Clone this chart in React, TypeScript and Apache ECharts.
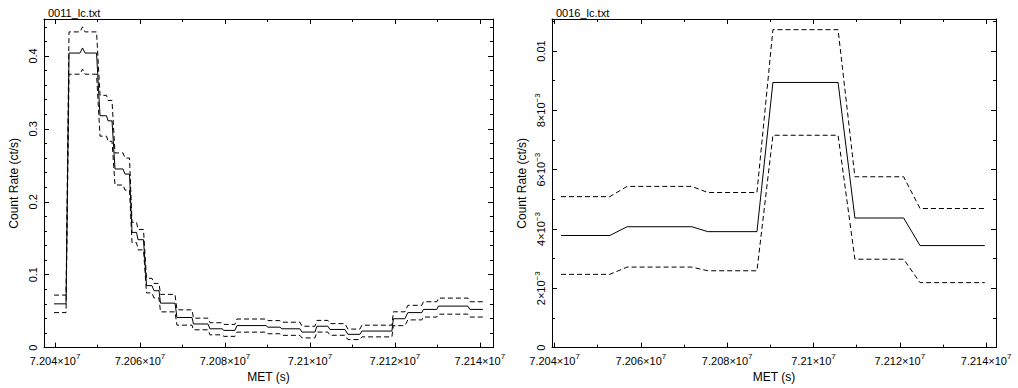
import { useEffect, useRef } from "react";
import * as echarts from "echarts";

// ---------- Data (MET seconds, count rate ct/s, 1-sigma error) ----------
const leftTitle = "0011_lc.txt";
const leftBinStart = [
  72039760, 72043290, 72046470, 72047060, 72050590, 72052470, 72054120, 72056470,
  72058120, 72059530, 72061530, 72063300, 72064830, 72068700, 72072590, 72076470,
  72079770, 72082830, 72090120, 72093410, 72098120, 72101650, 72104710, 72108940,
  72112240, 72119650, 72123060, 72126710, 72130240, 72137650,
];
const leftBinStop = [
  72042590, 72045880, 72046590, 72049770, 72052120, 72053410, 72056000, 72057530,
  72059180, 72060820, 72062820, 72064470, 72068240, 72072240, 72076000, 72079300,
  72082350, 72089650, 72092940, 72097650, 72101180, 72104240, 72108240, 72111770,
  72119300, 72122350, 72126350, 72129880, 72137180, 72140710,
];
const leftRate = [
  0.06, 0.404, 0.411, 0.404, 0.318, 0.311, 0.245, 0.238,
  0.158, 0.148, 0.085, 0.078, 0.061, 0.0413, 0.0324, 0.0258,
  0.0236, 0.0302, 0.028, 0.0258, 0.0213, 0.0293, 0.0249, 0.0182,
  0.0227, 0.0396, 0.048, 0.0524, 0.0569, 0.0524,
];
const leftErr = [
  0.012, 0.029, 0.029, 0.029, 0.028, 0.028, 0.022, 0.022,
  0.014, 0.014, 0.01, 0.01, 0.012, 0.0105, 0.008, 0.0083,
  0.0082, 0.009, 0.009, 0.009, 0.008, 0.008, 0.008, 0.0072,
  0.008, 0.0095, 0.01, 0.0105, 0.011, 0.0105,
];

const rightTitle = "0016_lc.txt";
const rightBinStart = [72041500, 72056800, 72075500, 72090600, 72109600, 72124700];
const rightBinStop = [72052800, 72071800, 72086900, 72105700, 72120900, 72139700];
const rightRate = [0.00378, 0.004075, 0.00391, 0.00894, 0.00437, 0.00344];
const rightErr = [0.00131, 0.00136, 0.00132, 0.00178, 0.00139, 0.00125];

const leftXRange = [72037400, 72143100];
const leftYRange = [0, 0.4507];
const rightXRange = [72039400, 72142300];
const rightYRange = [0, 0.01108];

const xAxisTitle = "MET (s)";
const yAxisTitle = "Count Rate (ct/s)";

// ---------- helpers ----------
const FONT = "Liberation Sans";

function binPath(start: number[], stop: number[], vals: number[], err: number[], sign: number) {
  const pts: number[][] = [];
  for (let i = 0; i < start.length; i++) {
    const v = vals[i] + sign * err[i];
    pts.push([start[i], v]);
    pts.push([stop[i], v]);
  }
  return pts;
}

function fmtX(v: number) {
  return `{m|${Number((v / 1e7).toFixed(4))}×10}{s|7}`;
}
function fmtYLeft(v: number) {
  return v === 0 ? "{m|0}" : `{m|${Number(v.toFixed(3))}}`;
}
function fmtYRight(v: number) {
  if (v === 0) return "{m|0}";
  if (Math.abs(v - 0.01) < 1e-9) return "{m|0.01}";
  return `{m|${Math.round(v * 1000)}×10}{s|−3}`;
}

const rich = {
  m: { fontFamily: FONT, fontSize: 11, color: "#000", lineHeight: 16, verticalAlign: "middle" },
  s: { fontFamily: FONT, fontSize: 8, color: "#000", lineHeight: 16, verticalAlign: "top" },
};

export default function App() {
  const ref = useRef<HTMLDivElement>(null);
  useEffect(() => {
    if (!ref.current) return;
    const chart = echarts.init(ref.current, undefined, { renderer: "svg" });
    const axisLine = { show: true, onZero: false, lineStyle: { color: "#000", width: 1 } };
    const tickStyle = { lineStyle: { color: "#000", width: 1 } };
    const labelStyle = { color: "#000", fontFamily: FONT, fontSize: 11 };
    const nameStyle = { color: "#000", fontFamily: FONT, fontSize: 12 };

    const grids = [
      { left: 44, top: 19, width: 449, height: 338 },
      { left: 552, top: 19, width: 444, height: 338 },
    ];
    const xr = [leftXRange, rightXRange];
    const yr = [leftYRange, rightYRange];
    const yMinor = [5, 2];
    const yFmt = [fmtYLeft, fmtYRight];

    const xAxis: any[] = [];
    const yAxis: any[] = [];
    [0, 1].forEach((g) => {
      xAxis.push({
        type: "value",
        gridIndex: g,
        position: "bottom",
        min: xr[g][0],
        max: xr[g][1],
        splitNumber: 5,
        axisLine,
        axisTick: { show: true, inside: true, length: 5, ...tickStyle },
        minorTick: { show: true, splitNumber: 2, length: 3, ...tickStyle },
        splitLine: { show: false },
        axisLabel: { ...labelStyle, rich, formatter: fmtX, margin: 5, showMinLabel: false, showMaxLabel: false },
        name: xAxisTitle,
        nameLocation: "middle",
        nameGap: 17,
        nameTextStyle: nameStyle,
      });
      xAxis.push({
        type: "value",
        gridIndex: g,
        position: "top",
        min: xr[g][0],
        max: xr[g][1],
        splitNumber: 5,
        axisLine,
        axisTick: { show: true, inside: true, length: 5, ...tickStyle },
        minorTick: { show: true, splitNumber: 2, length: 3, ...tickStyle },
        splitLine: { show: false },
        axisLabel: { show: false },
      });
      yAxis.push({
        type: "value",
        gridIndex: g,
        position: "left",
        min: yr[g][0],
        max: yr[g][1],
        splitNumber: 5,
        axisLine,
        axisTick: { show: true, inside: true, length: 5, ...tickStyle },
        minorTick: { show: true, splitNumber: yMinor[g], length: 3, ...tickStyle },
        splitLine: { show: false },
        axisLabel: {
          ...labelStyle,
          rich,
          formatter: yFmt[g],
          rotate: 90,
          margin: 3,
          showMaxLabel: false,
        },
        name: yAxisTitle,
        nameLocation: "middle",
        nameGap: 24,
        nameTextStyle: nameStyle,
      });
      yAxis.push({
        type: "value",
        gridIndex: g,
        position: "right",
        min: yr[g][0],
        max: yr[g][1],
        splitNumber: 5,
        axisLine,
        axisTick: { show: true, inside: true, length: 5, ...tickStyle },
        minorTick: { show: true, splitNumber: yMinor[g], length: 3, ...tickStyle },
        splitLine: { show: false },
        axisLabel: { show: false },
      });
    });

    const panels = [
      [leftBinStart, leftBinStop, leftRate, leftErr],
      [rightBinStart, rightBinStop, rightRate, rightErr],
    ];
    const series: any[] = [];
    panels.forEach((p, g) => {
      [0, 1, -1].forEach((sign) => {
        series.push({
          type: "line",
          xAxisIndex: g * 2,
          yAxisIndex: g * 2,
          data: binPath(p[0], p[1], p[2], p[3], sign),
          showSymbol: false,
          symbol: "none",
          silent: true,
          lineStyle: {
            color: "#000",
            width: 1,
            type: sign === 0 ? "solid" : [5, 3],
          },
        });
      });
    });

    chart.setOption({
      animation: false,
      backgroundColor: "#fff",
      title: [
        { text: leftTitle, left: 43, top: 2, textStyle: { ...labelStyle, fontWeight: "normal" } },
        { text: rightTitle, left: 551, top: 2, textStyle: { ...labelStyle, fontWeight: "normal" } },
      ],
      grid: grids,
      xAxis,
      yAxis,
      series,
    });
    return () => chart.dispose();
  }, []);
  return (
    <div
      ref={ref}
      style={{ position: "fixed", left: 0, top: 0, width: 1018, height: 388 }}
    />
  );
}
